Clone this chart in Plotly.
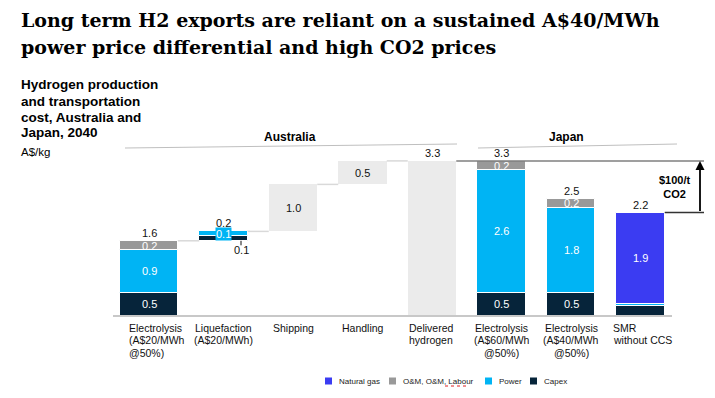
import plotly.graph_objects as go

# ---------------- data ----------------
categories = [
    "Electrolysis<br>(A$20/MWh<br>@50%)",
    "Liquefaction<br>(A$20/MWh)",
    "Shipping",
    "Handling",
    "Delivered<br>hydrogen",
    "Electrolysis<br>(A$60/MWh<br>@50%)",
    "Electrolysis<br>(A$40/MWh<br>@50%)",
    "SMR<br>without CCS",
]
label_align = ["left", "center", "center", "center", "left", "center", "center", "left"]

capex = [0.5, 0.1, 0, 0, 0, 0.5, 0.5, 0.22]
power = [0.9, 0.1, 0, 0, 0, 2.6, 1.8, 0.04]
om = [0.2, 0, 0, 0, 0, 0.2, 0.2, 0]
natural_gas = [0, 0, 0, 0, 0, 0, 0, 1.94]
transport = [0, 0, 1.0, 0.5, 3.3, 0, 0, 0]

# which segments get an inside label
show_capex = [1, 0, 0, 0, 0, 1, 1, 0]
show_power = [1, 0, 0, 0, 0, 1, 1, 0]
show_om = [1, 0, 0, 0, 0, 1, 1, 0]
show_gas = [0, 0, 0, 0, 0, 0, 0, 1]
show_transport = [0, 0, 1, 1, 0, 0, 0, 0]
show_total = [1, 1, 0, 0, 1, 1, 1, 1]

# waterfall chain in Australia (indices 0-3), everything else from zero
chain = [True, True, True, True, False, False, False, False]

legend_items = [("Natural gas", "#3b3cf2"), ("O&M, O&M, Labour", "#999999"),
                ("Power", "#00b4f4"), ("Capex", "#06243a")]

C_CAPEX = "#06243a"
C_POWER = "#00b4f4"
C_OM = "#999999"
C_GAS = "#3b3cf2"
C_TRANS = "#ebebeb"

# ---------------- geometry ----------------
W, H = 715, 398
X0, DX = 154.0, 69.5      # pixel of slot 0 and px per slot
Y0, DY = 316.0, 47.0      # pixel of zero and px per unit


def pxx(p):
    return (p - X0) / DX


def pxy(p):
    return (Y0 - p) / DY


n = len(categories)
totals = [capex[i] + power[i] + om[i] + natural_gas[i] + transport[i] for i in range(n)]
start = []
run = 0.0
for i in range(n):
    if chain[i]:
        start.append(run)
        run += totals[i]
    else:
        start.append(0.0)

xs = list(range(n))
widths = [58 / DX] + [48.5 / DX] * (n - 1)
offsets = [(120 - X0) / DX] + [-48.5 / 2 / DX] * (n - 1)

fig = go.Figure()


def add_seg(vals, bases, color, name, line=True):
    fig.add_trace(go.Bar(
        x=xs, y=[v if v else None for v in vals], base=bases,
        width=widths, offset=offsets, name=name,
        marker=dict(color=color, line=dict(color="white", width=1 if line else 0)),
        hoverinfo="skip", showlegend=False))


b_capex = start[:]
b_power = [start[i] + capex[i] for i in range(n)]
b_om = [b_power[i] + power[i] for i in range(n)]
b_gas = [b_om[i] + om[i] for i in range(n)]
b_trans = start[:]

add_seg(transport, b_trans, C_TRANS, "Transport", line=False)
add_seg(capex, b_capex, C_CAPEX, "Capex")
add_seg(power, b_power, C_POWER, "Power")
add_seg(om, b_om, C_OM, "O&M")
add_seg(natural_gas, b_gas, C_GAS, "Natural gas")

ann = []
shapes = []
FONT = "Liberation Sans, Arial, sans-serif"


def seg_label(vals, bases, show, color):
    for i in range(n):
        if show[i] and vals[i]:
            ann.append(dict(x=xs[i] + offsets[i] + widths[i] / 2, y=bases[i] + vals[i] / 2,
                            xref="x", yref="y", text=f"{vals[i]:.1f}", showarrow=False,
                            font=dict(family=FONT, size=11, color=color)))


seg_label(capex, b_capex, show_capex, "white")
seg_label(power, b_power, show_power, "white")
seg_label(om, b_om, show_om, "white")
seg_label(natural_gas, b_gas, show_gas, "white")
seg_label(transport, b_trans, show_transport, "#111111")

# liquefaction power label with box
ann.append(dict(x=1, y=b_power[1] + power[1] / 2, xref="x", yref="y", text=f"{power[1]:.1f}",
                showarrow=False, bgcolor=C_POWER, borderpad=0,
                font=dict(family=FONT, size=11, color="white")))
# liquefaction capex label below with tick
ann.append(dict(x=1 + 17.5 / DX, y=start[1] - 9.5 / DY, xref="x", yref="y", text=f"{capex[1]:.1f}",
                showarrow=False, font=dict(family=FONT, size=11, color="#111111")))
shapes.append(dict(type="line", xref="x", yref="y", x0=1 + 17.5 / DX, x1=1 + 17.5 / DX,
                   y0=start[1], y1=start[1] - 4.5 / DY, line=dict(color="#111111", width=1)))

# totals
for i in range(n):
    if show_total[i]:
        ann.append(dict(x=xs[i] + offsets[i] + widths[i] / 2, y=start[i] + totals[i], xref="x", yref="y",
                        text=f"{totals[i]:.1f}", showarrow=False, yshift=8,
                        font=dict(family=FONT, size=11, color="#111111")))

# waterfall connectors
for i in range(4):
    yv = start[i] + totals[i]
    shapes.append(dict(type="line", xref="x", yref="y",
                       x0=xs[i] + offsets[i] + widths[i], x1=xs[i + 1] + offsets[i + 1],
                       y0=yv, y1=yv, line=dict(color="#d9d9d9", width=1.5)))

# reference lines to arrow
x_arrow = pxx(700)
top_v = totals[4]
smr_v = totals[7]
shapes.append(dict(type="line", xref="x", yref="y", x0=xs[4] + offsets[4] + widths[4], x1=pxx(704),
                   y0=top_v, y1=top_v, line=dict(color="#7f7f7f", width=1.5)))
shapes.append(dict(type="line", xref="x", yref="y", x0=xs[7] + offsets[7] + widths[7], x1=pxx(704),
                   y0=smr_v, y1=smr_v, line=dict(color="#333333", width=1.5)))
ann.append(dict(x=x_arrow, y=top_v, ax=x_arrow, ay=smr_v, xref="x", yref="y", axref="x", ayref="y",
                text="", showarrow=True, arrowhead=2, arrowsize=1, arrowwidth=1.8, arrowcolor="#000000",
                standoff=0, startstandoff=0))
ann.append(dict(x=pxx(675), y=(top_v + smr_v) / 2, xref="x", yref="y", text="<b>$100/t<br>CO2</b>",
                showarrow=False, font=dict(family=FONT, size=11, color="#000000")))

# baseline
shapes.append(dict(type="line", xref="x", yref="y", x0=pxx(113), x1=pxx(672), y0=0, y1=0,
                   line=dict(color="#c8c8c8", width=2)))

# category labels, one annotation per line
left_shift_px = [-27.3, 0, 0, 0, -25, 0, 0, -29.8]   # block left edge relative to slot centre
for i in range(n):
    for k, line in enumerate(categories[i].split("<br>")):
        yc = 327.7 + 12.4 * k
        if label_align[i] == "left":
            ann.append(dict(x=xs[i] + left_shift_px[i] / DX, y=pxy(yc), xref="x", yref="y", text=line,
                            showarrow=False, xanchor="left", yanchor="middle",
                            font=dict(family=FONT, size=10.5, color="#111111")))
        else:
            ann.append(dict(x=xs[i], y=pxy(yc), xref="x", yref="y", text=line,
                            showarrow=False, xanchor="center", yanchor="middle",
                            font=dict(family=FONT, size=10.5, color="#111111")))


# paper helpers
def ppx(p):
    return p / W


def ppy(p):
    return 1 - p / H


# title
for txt, yc in [("Long term H2 exports are reliant on a sustained A$40/MWh", 20.5),
                ("power price differential and high CO2 prices", 46.5)]:
    ann.append(dict(x=ppx(19), y=ppy(yc), xref="paper", yref="paper", text=f"<b>{txt}</b>",
                    showarrow=False, xanchor="left", yanchor="middle",
                    font=dict(family="Georgia, DejaVu Serif, serif", size=19, color="#000000")))

# subtitle
for txt, yc in [("Hydrogen production", 85), ("and transportation", 101.5),
                ("cost, Australia and", 117.3), ("Japan, 2040", 132.7)]:
    ann.append(dict(x=ppx(19), y=ppy(yc), xref="paper", yref="paper", text=f"<b>{txt}</b>",
                    showarrow=False, xanchor="left", yanchor="middle",
                    font=dict(family=FONT, size=13.5, color="#000000")))
ann.append(dict(x=ppx(19), y=ppy(151.7), xref="paper", yref="paper", text="A$/kg",
                showarrow=False, xanchor="left", yanchor="middle",
                font=dict(family=FONT, size=11.5, color="#000000")))

# region headers
for txt, xc in [("Australia", 290), ("Japan", 586)]:
    ann.append(dict(x=ppx(xc), y=ppy(127.5), xref="paper", yref="paper", text=f"<b>{txt}</b>",
                    showarrow=False, font=dict(family=FONT, size=12, color="#000000")))
for x0, x1 in [(125, 457), (478, 677)]:
    shapes.append(dict(type="line", xref="paper", yref="paper", x0=ppx(x0), x1=ppx(x1),
                       y0=ppy(148), y1=ppy(144), line=dict(color="#bfbfbf", width=1)))

# legend
leg_x = [325, 389, 485, 530]
for (txt, col), lx in zip(legend_items, leg_x):
    shapes.append(dict(type="rect", xref="paper", yref="paper", x0=ppx(lx), x1=ppx(lx + 7),
                       y0=ppy(384.5), y1=ppy(377.5), fillcolor=col, line=dict(width=0)))
    ann.append(dict(x=ppx(lx + 12), y=ppy(381), xref="paper", yref="paper", text=txt,
                    showarrow=False, xanchor="left", yanchor="middle",
                    font=dict(family=FONT, size=8, color="#222222")))
shapes.append(dict(type="line", xref="paper", yref="paper", x0=ppx(445), x1=ppx(469),
                   y0=ppy(386), y1=ppy(386), line=dict(color="#e02020", width=1, dash="dot")))

fig.update_layout(
    width=W, height=H, margin=dict(l=0, r=0, t=0, b=0),
    paper_bgcolor="white", plot_bgcolor="white",
    barmode="overlay", bargap=0,
    xaxis=dict(range=[pxx(0), pxx(W)], visible=False, fixedrange=True),
    yaxis=dict(range=[pxy(H), pxy(0)], visible=False, fixedrange=True),
    annotations=ann, shapes=shapes, showlegend=False,
)

fig.write_html("out.html", config={"displayModeBar": False},
               post_script="document.body.style.margin='0';document.body.style.padding='0';"
                           "document.body.style.overflow='hidden';")
